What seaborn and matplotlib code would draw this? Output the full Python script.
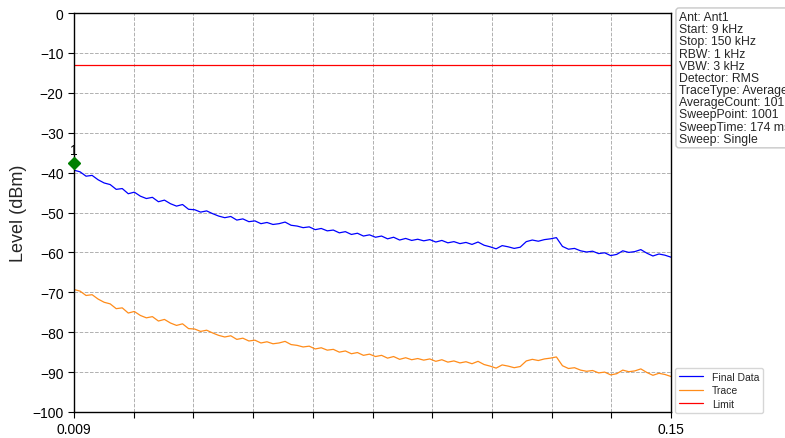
import numpy as np
import pandas as pd
import matplotlib
matplotlib.use("Agg")
import matplotlib.pyplot as plt
import seaborn as sns

# ---- data ----
START_MHZ = 0.009
STOP_MHZ = 0.15
final_data = [
    -39.4, -39.8, -40.9, -40.7, -41.8, -42.6, -43.0, -44.2, -44.0, -45.3,
    -44.9, -45.9, -46.5, -46.2, -47.3, -46.9, -47.8, -48.4, -48.0, -49.2,
    -49.3, -49.9, -49.6, -50.3, -50.9, -51.3, -51.0, -51.9, -51.6, -52.3,
    -52.1, -52.8, -52.5, -53.0, -52.8, -52.4, -53.2, -53.4, -53.8, -53.6,
    -54.3, -54.0, -54.6, -54.4, -55.1, -54.8, -55.5, -55.2, -55.9, -55.6,
    -56.2, -55.9, -56.6, -56.2, -56.9, -56.5, -57.0, -56.7, -57.1, -56.8,
    -57.4, -57.0, -57.6, -57.3, -57.8, -57.5, -58.0, -57.4, -58.2, -58.6,
    -59.1, -58.3, -58.6, -59.0, -58.7, -57.3, -56.9, -57.2, -56.8, -56.6,
    -56.3, -58.5, -59.2, -59.0, -59.6, -59.9, -59.7, -60.3, -60.1, -60.8,
    -60.5, -59.6, -60.0, -59.8, -59.3, -60.2, -60.9, -60.4, -60.7, -61.2,
]
trace = [
    -69.3, -69.7, -70.8, -70.6, -71.7, -72.5, -72.9, -74.1, -73.9, -75.2,
    -74.8, -75.8, -76.4, -76.1, -77.2, -76.8, -77.7, -78.3, -77.9, -79.1,
    -79.2, -79.8, -79.5, -80.2, -80.8, -81.2, -80.9, -81.8, -81.5, -82.2,
    -82.0, -82.7, -82.4, -82.9, -82.7, -82.3, -83.1, -83.3, -83.7, -83.5,
    -84.2, -83.9, -84.5, -84.3, -85.0, -84.7, -85.4, -85.1, -85.8, -85.5,
    -86.1, -85.8, -86.5, -86.1, -86.8, -86.4, -86.9, -86.6, -87.0, -86.7,
    -87.3, -86.9, -87.5, -87.2, -87.7, -87.4, -87.9, -87.3, -88.1, -88.5,
    -89.0, -88.2, -88.5, -88.9, -88.6, -87.2, -86.8, -87.1, -86.7, -86.5,
    -86.2, -88.4, -89.1, -88.9, -89.5, -89.8, -89.6, -90.2, -90.0, -90.7,
    -90.4, -89.5, -89.9, -89.7, -89.2, -90.1, -90.8, -90.3, -90.6, -91.1,
]
limit_level = -13.0
marker_freq = 0.009
marker_level = -37.7
marker_label = "1"
info_lines = [
    "Ant: Ant1", "Start: 9 kHz", "Stop: 150 kHz", "RBW: 1 kHz", "VBW: 3 kHz",
    "Detector: RMS", "TraceType: Average", "AverageCount: 101",
    "SweepPoint: 1001", "SweepTime: 174 ms", "Sweep: Single",
]
series_names = ["Final Data", "Trace", "Limit"]
series_colors = ["#0000ff", "#ff8c1a", "#ff0000"]

freq = np.linspace(START_MHZ, STOP_MHZ, len(final_data))
df = pd.concat([
    pd.DataFrame({"Freq": freq, "Level": final_data, "Series": series_names[0]}),
    pd.DataFrame({"Freq": freq, "Level": trace, "Series": series_names[1]}),
    pd.DataFrame({"Freq": [START_MHZ, STOP_MHZ], "Level": [limit_level, limit_level],
                  "Series": series_names[2]}),
])

sns.set_style("ticks")
plt.rcParams["font.family"] = ["Liberation Sans", "DejaVu Sans"]

fig = plt.figure(figsize=(7.85, 4.39), dpi=100)
ax = fig.add_axes([74 / 785, 1 - 413 / 439, (671 - 74) / 785, (413 - 14) / 439])

for name, color in zip(series_names, series_colors):
    sub = df[df["Series"] == name]
    sns.lineplot(data=sub, x="Freq", y="Level", color=color, label=name,
                 linewidth=0.9, ax=ax, sort=False, estimator=None)

ax.plot([marker_freq], [marker_level], marker="D", color="green", markersize=6,
        clip_on=False, zorder=5)
ax.text(marker_freq, marker_level + 1.6, marker_label, ha="center", va="bottom",
        fontsize=10, color="black", clip_on=False)

ax.set_xlim(START_MHZ, STOP_MHZ)
ax.set_ylim(-100, 0)
ax.set_yticks(np.arange(-100, 1, 10))
xt = np.linspace(START_MHZ, STOP_MHZ, 11)
ax.set_xticks(xt)
ax.set_xticklabels(["0.009"] + [""] * 9 + ["0.15"])
ax.tick_params(axis="both", labelsize=10, colors="black", direction="out", length=4)
ax.grid(True, linestyle="--", color="#b0b0b0", linewidth=0.7)
ax.set_xlabel("")
ax.set_ylabel("Level (dBm)", fontsize=13)
for s in ax.spines.values():
    s.set_color("black")
    s.set_linewidth(1.0)

leg = ax.legend(loc="lower left", bbox_to_anchor=(1.007, -0.003), fontsize=7.5,
                frameon=True, handlelength=2.3, borderaxespad=0.0,
                labelspacing=0.35)
leg.get_frame().set_edgecolor("#cccccc")

fig.text(679 / 785, 1 - 12 / 439, "\n".join(info_lines), ha="left", va="top",
         fontsize=8.8, linespacing=1.02,
         bbox=dict(boxstyle="round,pad=0.25", facecolor="white", edgecolor="#c8c8c8"))

fig.savefig("out.png", dpi=100)
